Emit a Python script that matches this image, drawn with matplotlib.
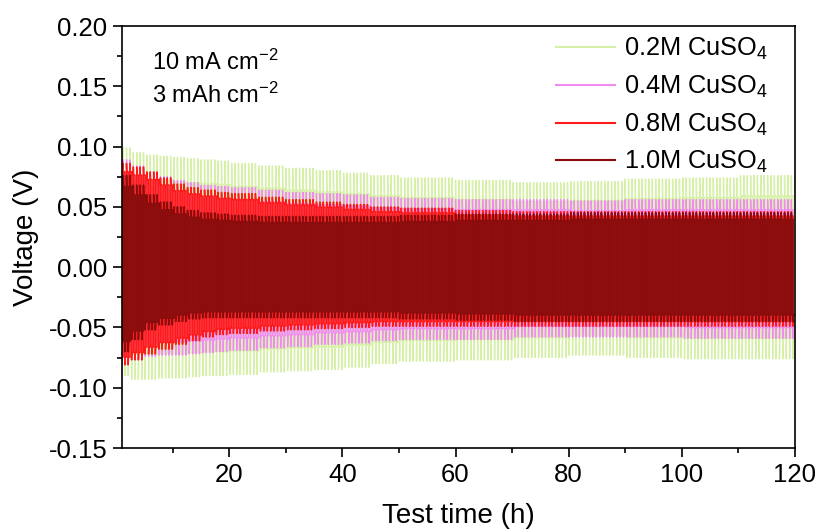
import numpy as np
import matplotlib.pyplot as plt
from matplotlib.ticker import MultipleLocator

plt.rcParams['font.family'] = ['Liberation Sans', 'DejaVu Sans']
plt.rcParams['mathtext.fontset'] = 'custom'
plt.rcParams['mathtext.rm'] = 'Liberation Sans'
plt.rcParams['mathtext.default'] = 'regular'

# readings of the voltage envelope (V) at these test times (h)
t_read = [1, 2.5, 5, 7.5, 10, 12.5, 15, 17.5, 20, 25, 30, 35, 40, 45, 50, 60, 70, 80, 90, 100, 110, 120]

labels = ['0.2M CuSO$_4$', '0.4M CuSO$_4$', '0.8M CuSO$_4$', '1.0M CuSO$_4$']
colors = ['#d6f0a8', '#f08cf0', '#ff1a1a', '#8b0c0c']

up_02 = [0.099, 0.095, 0.093, 0.092, 0.091, 0.090, 0.089, 0.088, 0.086, 0.084, 0.082, 0.080,
         0.078, 0.076, 0.074, 0.072, 0.070, 0.071, 0.073, 0.074, 0.076, 0.077]
dn_02 = [-0.090, -0.093, -0.093, -0.092, -0.092, -0.091, -0.090, -0.090, -0.089, -0.087, -0.086, -0.085,
         -0.083, -0.080, -0.078, -0.077, -0.075, -0.073, -0.075, -0.076, -0.076, -0.074]
up_04 = [0.089, 0.084, 0.078, 0.075, 0.072, 0.070, 0.068, 0.067, 0.066, 0.064, 0.062, 0.061,
         0.060, 0.058, 0.057, 0.056, 0.056, 0.055, 0.056, 0.056, 0.056, 0.055]
dn_04 = [-0.077, -0.076, -0.074, -0.073, -0.073, -0.072, -0.071, -0.070, -0.069, -0.067, -0.066, -0.064,
         -0.063, -0.061, -0.060, -0.060, -0.058, -0.058, -0.058, -0.059, -0.059, -0.058]
up_08 = [0.086, 0.083, 0.079, 0.074, 0.069, 0.066, 0.064, 0.062, 0.061, 0.058, 0.056, 0.054,
         0.052, 0.050, 0.049, 0.047, 0.046, 0.046, 0.046, 0.046, 0.046, 0.046]
dn_08 = [-0.081, -0.077, -0.072, -0.068, -0.064, -0.061, -0.058, -0.056, -0.055, -0.053, -0.052, -0.051,
         -0.050, -0.049, -0.049, -0.049, -0.049, -0.049, -0.049, -0.049, -0.049, -0.049]
up_10 = [0.076, 0.068, 0.060, 0.054, 0.050, 0.047, 0.045, 0.044, 0.043, 0.042, 0.042, 0.042,
         0.042, 0.042, 0.043, 0.044, 0.044, 0.045, 0.045, 0.045, 0.045, 0.045]
dn_10 = [-0.070, -0.060, -0.052, -0.048, -0.045, -0.043, -0.042, -0.042, -0.042, -0.042, -0.042, -0.042,
         -0.042, -0.042, -0.043, -0.044, -0.045, -0.045, -0.045, -0.045, -0.045, -0.045]
plateau = [0.78, 0.85, 0.92, 0.88]   # plateau / spike ratio
widths = [1.0, 1.0, 1.1, 1.2]

ups = [up_02, up_04, up_08, up_10]
dns = [dn_02, dn_04, dn_08, dn_10]

half = 0.3  # h, 3 mAh cm-2 at 10 mA cm-2


def profile(up, dn, ratio):
    """square-wave voltage profile, spike then plateau in each half cycle"""
    starts = np.arange(0, 120, half)
    idx = np.clip(np.searchsorted(t_read, starts, side='right') - 1, 0, len(t_read) - 1)
    t, v = [], []
    for k, (s, i) in enumerate(zip(starts, idx)):
        pk = up[i] if k % 2 == 0 else dn[i]
        t += [s, s + 0.04, s + half]
        v += [pk, pk * ratio, pk * ratio]
    return np.array(t), np.array(v)


fig = plt.figure(figsize=(8.21, 5.31), dpi=100)
ax = fig.add_axes([0.1486, 0.1563, 0.8194, 0.7947])

for up, dn, r, w, c, lab in zip(ups, dns, plateau, widths, colors, labels):
    t, v = profile(up, dn, r)
    ax.plot(t, v, color=c, lw=w)
    ax.plot([], [], color=c, lw=1.5, label=lab)

ax.set_xlim(1, 120)
ax.set_ylim(-0.15, 0.20)
ax.xaxis.set_major_locator(MultipleLocator(20))
ax.xaxis.set_minor_locator(MultipleLocator(10))
ax.yaxis.set_major_locator(MultipleLocator(0.05))
ax.yaxis.set_minor_locator(MultipleLocator(0.025))
ax.yaxis.set_major_formatter(plt.FormatStrFormatter('%.2f'))
ax.tick_params(which='major', length=6.5, width=1.2, labelsize=18.5, pad=4)
ax.tick_params(which='minor', length=3.6, width=1.2)
for sp in ax.spines.values():
    sp.set_linewidth(1.2)
ax.set_xlabel('Test time (h)', fontsize=20, labelpad=12)
ax.set_ylabel('Voltage (V)', fontsize=20, labelpad=7)

ax.text(0.045, 0.915, '10 mA cm$^{-2}$', transform=ax.transAxes, fontsize=17, va='center')
ax.text(0.045, 0.836, '3 mAh cm$^{-2}$', transform=ax.transAxes, fontsize=17, va='center')

leg = ax.legend(loc='upper right', frameon=False, fontsize=18.3, handlelength=2.3,
                handletextpad=0.35, borderaxespad=0.0, labelspacing=0.45,
                bbox_to_anchor=(0.975, 1.0))

fig.savefig('out.png', dpi=100)
